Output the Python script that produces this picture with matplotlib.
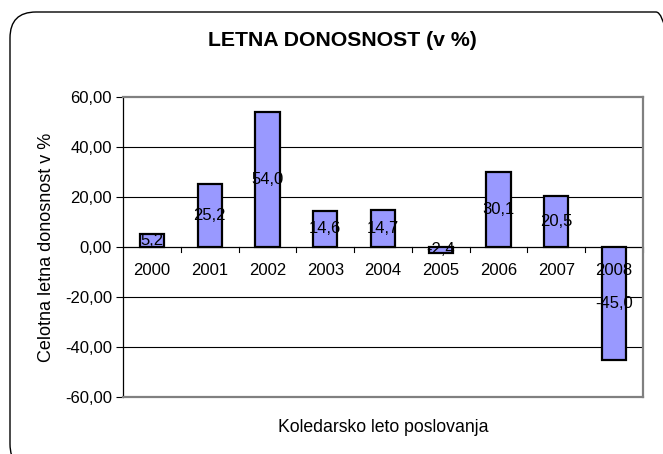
import matplotlib.pyplot as plt
from matplotlib.patches import FancyBboxPatch
from matplotlib.transforms import IdentityTransform

plt.rcParams['font.family'] = ['Liberation Sans', 'DejaVu Sans']

years = ['2000', '2001', '2002', '2003', '2004', '2005', '2006', '2007', '2008']
donosnost = [5.2, 25.2, 54.0, 14.6, 14.7, -2.4, 30.1, 20.5, -45.0]
y_ticks = [-60, -40, -20, 0, 20, 40, 60]

fig = plt.figure(figsize=(6.63, 4.54), dpi=100, facecolor='white')
ax = fig.add_axes([123 / 663, 1 - 397 / 454, 520 / 663, 300 / 454])

x = list(range(len(years)))
ax.bar(x, donosnost, width=0.42, color='#9999ff', edgecolor='black',
       linewidth=1.6, zorder=3)

# oznake podatkov na sredini stolpca
for xi, v in zip(x, donosnost):
    ax.text(xi, v / 2, f'{v:.1f}'.replace('.', ','), ha='center', va='center',
            fontsize=12, zorder=4)

ax.set_xlim(-0.5, len(years) - 0.5)
ax.set_ylim(-60, 60)
ax.set_yticks(y_ticks)
ax.set_yticklabels([f'{t:.2f}'.replace('.', ',') for t in y_ticks], fontsize=12)
ax.tick_params(axis='y', direction='out', length=5, width=0.8, pad=3)

# mreža
for t in [-40, -20, 20, 40]:
    ax.axhline(t, color='black', linewidth=0.8, zorder=1)

# os x na ničli
ax.axhline(0, color='black', linewidth=0.9, zorder=2)
for b in [i + 0.5 for i in range(len(years))]:
    ax.plot([b, b], [0, -2], color='black', linewidth=0.8, zorder=2,
            clip_on=False)
ax.set_xticks([])
for xi, yr in zip(x, years):
    ax.text(xi, -9.5, yr, ha='center', va='center', fontsize=12, zorder=4)

for side in ['top', 'right', 'bottom']:
    ax.spines[side].set_color('#808080')
    ax.spines[side].set_linewidth(1.6)
ax.spines['left'].set_color('black')
ax.spines['left'].set_linewidth(0.9)

fig.text(47 / 663, 1 - 247 / 454, 'Celotna letna donosnost v %', rotation=90,
         ha='center', va='center', fontsize=13)
fig.text(383 / 663, 1 - 427 / 454, 'Koledarsko leto poslovanja',
         ha='center', va='center', fontsize=12.7)
fig.text(342 / 663, 1 - 40 / 454, 'LETNA DONOSNOST (v %)', ha='center',
         va='center', fontsize=15.3, fontweight='bold')

# zaobljen okvir grafikona (sega čez rob slike)
border = FancyBboxPatch((10, -16), 672, 458,
                        boxstyle='round,pad=0,rounding_size=26',
                        transform=IdentityTransform(), facecolor='none',
                        edgecolor='black', linewidth=1.0)
fig.patches.append(border)

fig.savefig('out.png', dpi=100)
